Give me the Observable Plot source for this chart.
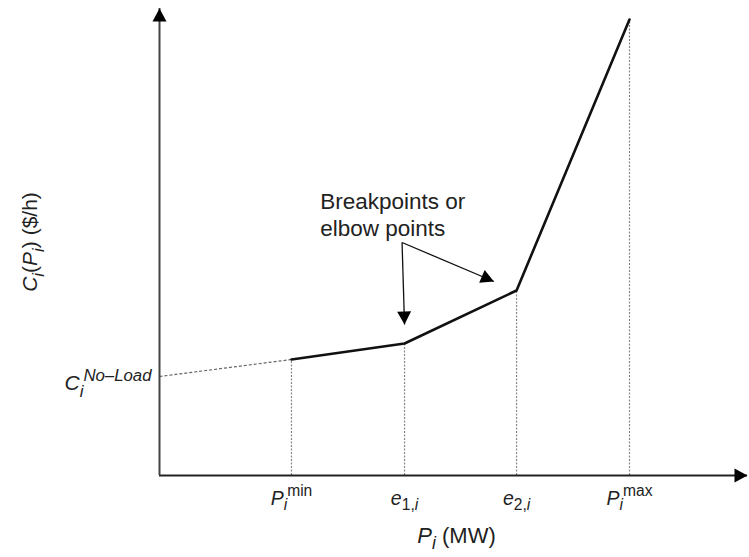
<!DOCTYPE html>
<html>
<head>
<meta charset="utf-8">
<script src="https://cdn.jsdelivr.net/npm/d3@7"></script>
<script src="https://cdn.jsdelivr.net/npm/@observablehq/plot@0.6"></script>
<style>
  html, body { margin: 0; padding: 0; background: #fff; }
  #chart svg { display: block; }
</style>
</head>
<body>
<div id="chart"></div>
<script>
// ---- data (abstract units) ----
const tickLabels = ["*P*_{*i*}^{min}", "*e*_{1,*i*}", "*e*_{2,*i*}", "*P*_{*i*}^{max}"];
const pointX = [1.171, 2.174, 3.168, 4.170];      // Pmin, e1, e2, Pmax (MW, abstract)
const pointCost = [116, 132, 185, 456];           // cost at those points ($/h, abstract)
const noLoadCost = 99;
const noLoadLabel = "*C*_{*i*}^{*No–Load*}";
const xMax = 5.217;
const yMax = 467;
const xTitle = "*P*_{*i*} (MW)";
const yTitle = "*C*_{*i*}(*P*_{*i*}) ($/h)";
const noteText = "Breakpoints or\nelbow points";
const noteX = 1.426, noteY = 262;
const arrowFromX = 2.152, arrowFromY = 233;
const arrowTipX = [2.174, 2.967];
const arrowTipY = [151, 194];

const points = pointX.map((x, i) => ({x, c: pointCost[i], label: tickLabels[i]}));
const arrows = arrowTipX.map((x, i) => ({x1: arrowFromX, y1: arrowFromY, x2: x, y2: arrowTipY[i]}));

const W = 749, H = 557;
const mL = 159, mR = 2, mT = 8, mB = 82;
const sx = Plot.scale({x: {domain: [0, xMax], range: [mL, W - mR]}});
const sy = Plot.scale({y: {domain: [0, yMax], range: [H - mB, mT]}});
arrows.forEach(a => {
  const dx = sx.apply(a.x2) - sx.apply(a.x1);
  const dy = sy.apply(a.y2) - sy.apply(a.y1);
  a.angle = Math.atan2(dx, -dy) * 180 / Math.PI;
});

// filled arrowhead symbol, tip at origin pointing up
const arrowHead = {draw(ctx) { const h = 13, w = 7; ctx.moveTo(0, 0); ctx.lineTo(-w, h); ctx.lineTo(w, h); ctx.closePath(); }};
const axisHeads = [{x: 0, y: yMax, angle: 0}, {x: xMax, y: 0, angle: 90}];

const chart = Plot.plot({
  width: W, height: H,
  marginLeft: mL, marginRight: mR, marginTop: mT, marginBottom: mB,
  x: {domain: [0, xMax], axis: null},
  y: {domain: [0, yMax], axis: null},
  style: {fontFamily: "'Liberation Sans', Arial, sans-serif", background: "white", color: "black"},
  marks: [
    // dotted extension to no-load cost
    Plot.link([{x1: 0, y1: noLoadCost, x2: pointX[0], y2: pointCost[0]}], {x1: "x1", y1: "y1", x2: "x2", y2: "y2", stroke: "#666", strokeWidth: 1.2, strokeDasharray: "3,2"}),
    // dotted verticals
    Plot.ruleX(points, {x: "x", y1: 0, y2: "c", stroke: "#888", strokeWidth: 1.2, strokeDasharray: "2,1.5"}),
    // axes
    Plot.ruleY([0], {x1: 0, x2: xMax, stroke: "#222", strokeWidth: 2}),
    Plot.ruleX([0], {y1: 0, y2: yMax, stroke: "#444", strokeWidth: 2}),
    Plot.dot(axisHeads, {x: "x", y: "y", rotate: "angle", symbol: arrowHead, fill: "black", stroke: "none"}),
    // cost curve
    Plot.line(points, {x: "x", y: "c", stroke: "#111", strokeWidth: 2.6, strokeLinejoin: "miter"}),
    // annotation arrows
    Plot.link(arrows, {x1: "x1", y1: "y1", x2: "x2", y2: "y2", stroke: "#111", strokeWidth: 1.3}),
    Plot.dot(arrows, {x: "x2", y: "y2", rotate: "angle", symbol: arrowHead, fill: "black", stroke: "none"}),
    Plot.text([noteText], {x: noteX, y: noteY, text: d => d, textAnchor: "start", lineAnchor: "middle", lineHeight: 1.2, fontSize: 22.5, fill: "#222"}),
    // tick labels
    Plot.text(points, {x: "x", text: "label", frameAnchor: "bottom", dy: 29, fontSize: 19.5, fill: "#222"}),
    // no-load label
    Plot.text([noLoadLabel], {x: 0, y: noLoadCost, text: d => d, textAnchor: "end", dx: -8, dy: 7, fontSize: 21, fill: "#222"}),
    // axis titles
    Plot.text([xTitle], {text: d => d, frameAnchor: "bottom", dy: 67, dx: 3, fontSize: 22, fill: "#222"}),
    Plot.text([yTitle], {text: d => d, frameAnchor: "left", textAnchor: "middle", dx: -129, rotate: -90, fontSize: 21, fill: "#222"})
  ]
});

document.getElementById("chart").append(chart);

// convert *italic*, _{sub}, ^{sup} markup into tspans
function richify(svg) {
  d3.select(svg).selectAll("text").each(function() {
    const el = this;
    const s = el.textContent;
    if (!/[_^*]/.test(s)) return;
    const base = parseFloat(getComputedStyle(el).fontSize) || 16;
    el.textContent = "";
    let italic = false, stack = [], run = "", offset = 0;
    const level = () => stack.length ? stack[stack.length - 1] : "base";
    function flush() {
      if (!run) return;
      const lvl = level();
      const target = lvl === "sub" ? 0.3 * base : lvl === "sup" ? -0.45 * base : 0;
      const t = document.createElementNS("http://www.w3.org/2000/svg", "tspan");
      t.textContent = run;
      t.setAttribute("font-style", italic ? "italic" : "normal");
      t.setAttribute("font-size", (lvl === "base" ? base : base * 0.8) + "px");
      t.setAttribute("dy", (target - offset) + "px");
      el.appendChild(t);
      offset = target;
      run = "";
    }
    for (let i = 0; i < s.length; i++) {
      const ch = s[i];
      if ((ch === "_" || ch === "^") && s[i + 1] === "{") {
        flush(); stack.push(ch === "_" ? "sub" : "sup"); i++;
      } else if (ch === "}") {
        flush(); stack.pop();
      } else if (ch === "*") {
        flush(); italic = !italic;
      } else {
        run += ch;
      }
    }
    flush();
  });
}
richify(chart);
</script>
</body>
</html>
